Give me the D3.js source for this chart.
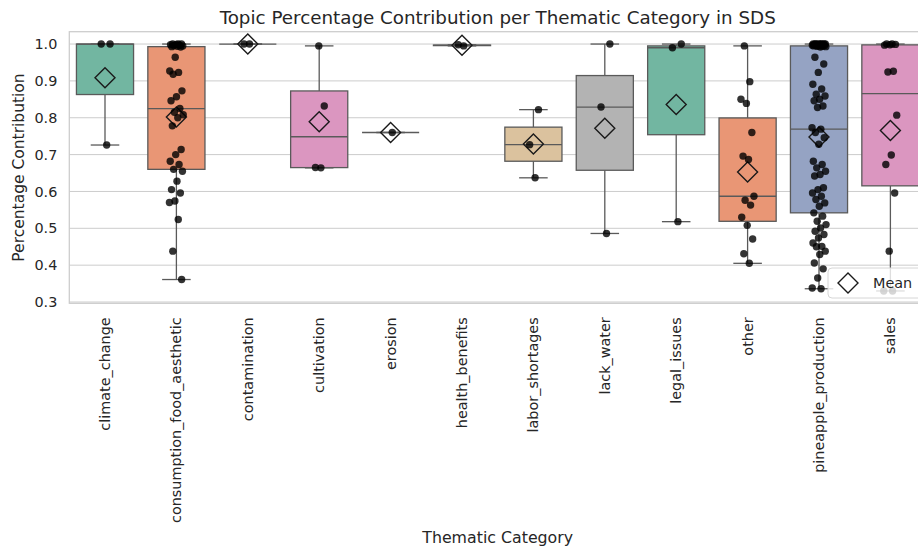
<!DOCTYPE html>
<html>
<head>
<meta charset="utf-8">
<script src="https://cdn.jsdelivr.net/npm/d3@7"></script>
<style>
  html, body { margin: 0; padding: 0; background: #ffffff; }
  svg { display: block; font-family: "DejaVu Sans", sans-serif; }
</style>
</head>
<body>
<svg id="chart" width="918" height="550"></svg>
<script>
// Thematic categories, in axis order
const categories = [
  "climate_change", "consumption_food_aesthetic", "contamination", "cultivation",
  "erosion", "health_benefits", "labor_shortages", "lack_water",
  "legal_issues", "other", "pineapple_production", "sales"
];

// Topic percentage contribution of each document, per category
const climateChange = [0.726, 1.0, 1.0];
const consumptionFoodAesthetic = [
  1.0, 1.0, 1.0, 0.999, 0.998, 0.997, 0.996, 0.995, 0.994, 0.993, 0.992,
  0.964, 0.927, 0.923, 0.918, 0.873, 0.857, 0.846, 0.825, 0.815, 0.808, 0.80,
  0.778, 0.714, 0.70, 0.682, 0.673, 0.66, 0.655, 0.628, 0.605, 0.596, 0.574,
  0.57, 0.524, 0.438, 0.361
];
const contamination = [1.0, 1.0];
const cultivation = [0.664, 0.665, 0.832, 0.995];
const erosion = [0.76];
const healthBenefits = [0.995, 0.998];
const laborShortages = [0.637, 0.727, 0.822];
const lackWater = [0.486, 0.829, 1.0];
const legalIssues = [0.518, 0.99, 1.0];
const other = [
  0.405, 0.431, 0.471, 0.508, 0.530, 0.563, 0.576, 0.587,
  0.687, 0.696, 0.76, 0.839, 0.85, 0.898, 0.995
];
const pineappleProduction = [
  1.0, 1.0, 1.0, 1.0, 1.0, 1.0, 1.0, 1.0, 0.999, 0.999, 0.998, 0.998, 0.997, 0.997,
  0.996, 0.996, 0.995, 0.995, 0.994, 0.994, 0.993, 0.992,
  0.964, 0.946, 0.923,
  0.891, 0.878, 0.864, 0.859, 0.85, 0.846, 0.832, 0.828,
  0.773, 0.769, 0.76, 0.746, 0.728,
  0.682, 0.673, 0.664, 0.655, 0.646, 0.642,
  0.61, 0.605, 0.596, 0.587, 0.578, 0.569, 0.56,
  0.542, 0.533, 0.519, 0.51, 0.501, 0.492,
  0.483, 0.474, 0.46, 0.451, 0.45, 0.438, 0.429,
  0.406, 0.39, 0.365, 0.338, 0.336
];
const sales = [
  1.0, 1.0, 0.999, 0.998, 0.997, 0.926, 0.924, 0.807,
  0.699, 0.673, 0.596, 0.438, 0.33, 0.33
];

const seriesValues = [
  climateChange, consumptionFoodAesthetic, contamination, cultivation,
  erosion, healthBenefits, laborShortages, lackWater,
  legalIssues, other, pineappleProduction, sales
];

// Axis tick values
const yTicks = [0.3, 0.4, 0.5, 0.6, 0.7, 0.8, 0.9, 1.0];

// Set2 palette, cycled over the categories and desaturated like seaborn boxes
const set2 = ["#66c2a5", "#fc8d62", "#8da0cb", "#e78ac3", "#a6d854", "#ffd92f", "#e5c494", "#b3b3b3"];
function boxColor(i) {
  const c = d3.hsl(set2[i % set2.length]);
  c.s *= 0.75;
  return c.formatHex();
}

const svg = d3.select("#chart");
const plotLeft = 69.3, plotRight = 926.1, plotTop = 31.7, plotBottom = 303.3;
const textColor = "#262626";
const lineGray = "#5a5a5a";

const x = d3.scaleBand().domain(categories).range([plotLeft, plotRight]).padding(0);

const allVals = seriesValues.flat();
const [vMin, vMax] = d3.extent(allVals);
const pad = (vMax - vMin) * 0.05;
const y = d3.scaleLinear().domain([vMin - pad, vMax + pad]).range([plotBottom, plotTop]);

// Horizontal grid
svg.append("g")
  .selectAll("line")
  .data(yTicks)
  .join("line")
  .attr("x1", plotLeft).attr("x2", plotRight)
  .attr("y1", d => y(d)).attr("y2", d => y(d))
  .attr("stroke", "#cccccc").attr("stroke-width", 1);

// Axes frame
svg.append("rect")
  .attr("x", plotLeft).attr("y", plotTop)
  .attr("width", plotRight - plotLeft).attr("height", plotBottom - plotTop)
  .attr("fill", "none").attr("stroke", "#cccccc").attr("stroke-width", 1.25);

// Y axis
const yAxis = d3.axisLeft(y).tickValues(yTicks).tickFormat(d3.format(".1f")).tickSize(0).tickPadding(12);
const gy = svg.append("g").attr("transform", `translate(${plotLeft},0)`).call(yAxis);
gy.select(".domain").remove();
gy.selectAll("text").attr("fill", textColor).attr("font-size", 14.4).attr("font-family", "DejaVu Sans");

// X axis with rotated labels
const xAxis = d3.axisBottom(x).tickSize(0).tickPadding(0);
const gx = svg.append("g").attr("transform", `translate(0,${plotBottom})`).call(xAxis);
gx.select(".domain").remove();
gx.selectAll("text")
  .attr("fill", textColor)
  .attr("font-size", 14.4)
  .attr("font-family", "DejaVu Sans")
  .attr("text-anchor", "end")
  .attr("dy", "0.35em")
  .attr("transform", "translate(0,14) rotate(-90)");

// Box statistics
const stats = seriesValues.map((vals, i) => {
  const s = vals.slice().sort(d3.ascending);
  const q1 = d3.quantileSorted(s, 0.25);
  const med = d3.quantileSorted(s, 0.5);
  const q3 = d3.quantileSorted(s, 0.75);
  const iqr = q3 - q1;
  const lowW = d3.min(s.filter(v => v >= q1 - 1.5 * iqr));
  const highW = d3.max(s.filter(v => v <= q3 + 1.5 * iqr));
  return { cat: categories[i], i, q1, med, q3, lowW, highW, mean: d3.mean(s), vals };
});

const bw = x.bandwidth();
const boxW = bw * 0.8;
const capW = boxW * 0.5;

const boxes = svg.append("g").selectAll("g").data(stats).join("g")
  .attr("transform", d => `translate(${x(d.cat) + bw / 2},0)`);

// Whiskers
boxes.append("line")
  .attr("x1", 0).attr("x2", 0)
  .attr("y1", d => y(d.q3)).attr("y2", d => y(d.highW))
  .attr("stroke", lineGray).attr("stroke-width", 1.3);
boxes.append("line")
  .attr("x1", 0).attr("x2", 0)
  .attr("y1", d => y(d.q1)).attr("y2", d => y(d.lowW))
  .attr("stroke", lineGray).attr("stroke-width", 1.3);
// Caps
boxes.append("line")
  .attr("x1", -capW / 2).attr("x2", capW / 2)
  .attr("y1", d => y(d.highW)).attr("y2", d => y(d.highW))
  .attr("stroke", lineGray).attr("stroke-width", 1.3);
boxes.append("line")
  .attr("x1", -capW / 2).attr("x2", capW / 2)
  .attr("y1", d => y(d.lowW)).attr("y2", d => y(d.lowW))
  .attr("stroke", lineGray).attr("stroke-width", 1.3);
// Boxes
boxes.append("rect")
  .attr("x", -boxW / 2).attr("width", boxW)
  .attr("y", d => y(d.q3)).attr("height", d => y(d.q1) - y(d.q3))
  .attr("fill", d => boxColor(d.i))
  .attr("stroke", lineGray).attr("stroke-width", 1.3);
// Medians
boxes.append("line")
  .attr("x1", -boxW / 2).attr("x2", boxW / 2)
  .attr("y1", d => y(d.med)).attr("y2", d => y(d.med))
  .attr("stroke", lineGray).attr("stroke-width", 1.3);

// Mean markers
const diamond = r => `M0,${-r}L${r},0L0,${r}L${-r},0Z`;
boxes.append("path")
  .attr("d", diamond(10))
  .attr("transform", d => `translate(0,${y(d.mean)})`)
  .attr("fill", "none").attr("stroke", "#1a1a1a").attr("stroke-width", 1.4);

// Jittered strip points (deterministic offsets)
const jitter = bw * 0.1;
boxes.each(function (d) {
  d3.select(this).selectAll("circle")
    .data(d.vals)
    .join("circle")
    .attr("cx", (v, k) => ((((k + 1) * 0.6180339887) % 1) - 0.5) * 2 * jitter)
    .attr("cy", v => y(v))
    .attr("r", 3.7)
    .attr("fill", "#000000").attr("fill-opacity", 0.8);
});

// Legend
const lg = svg.append("g");
lg.append("rect")
  .attr("x", 828).attr("y", 268).attr("width", 98).attr("height", 30).attr("rx", 4)
  .attr("fill", "#ffffff").attr("fill-opacity", 0.8)
  .attr("stroke", "#d6d6d6").attr("stroke-width", 1);
lg.append("path")
  .attr("d", diamond(10))
  .attr("transform", "translate(848,283)")
  .attr("fill", "#ffffff").attr("stroke", "#1a1a1a").attr("stroke-width", 1.4);
lg.append("text")
  .attr("x", 873).attr("y", 283).attr("dy", "0.35em")
  .attr("font-size", 14.4).attr("fill", textColor)
  .text("Mean");

// Title and axis labels
svg.append("text")
  .attr("x", (plotLeft + plotRight) / 2).attr("y", 24)
  .attr("text-anchor", "middle").attr("font-size", 18.3).attr("fill", textColor)
  .text("Topic Percentage Contribution per Thematic Category in SDS");
svg.append("text")
  .attr("transform", `translate(24,${(plotTop + plotBottom) / 2}) rotate(-90)`)
  .attr("text-anchor", "middle").attr("font-size", 15.5).attr("fill", textColor)
  .text("Percentage Contribution");
svg.append("text")
  .attr("x", (plotLeft + plotRight) / 2).attr("y", 543)
  .attr("text-anchor", "middle").attr("font-size", 15.8).attr("fill", textColor)
  .text("Thematic Category");
</script>
</body>
</html>
